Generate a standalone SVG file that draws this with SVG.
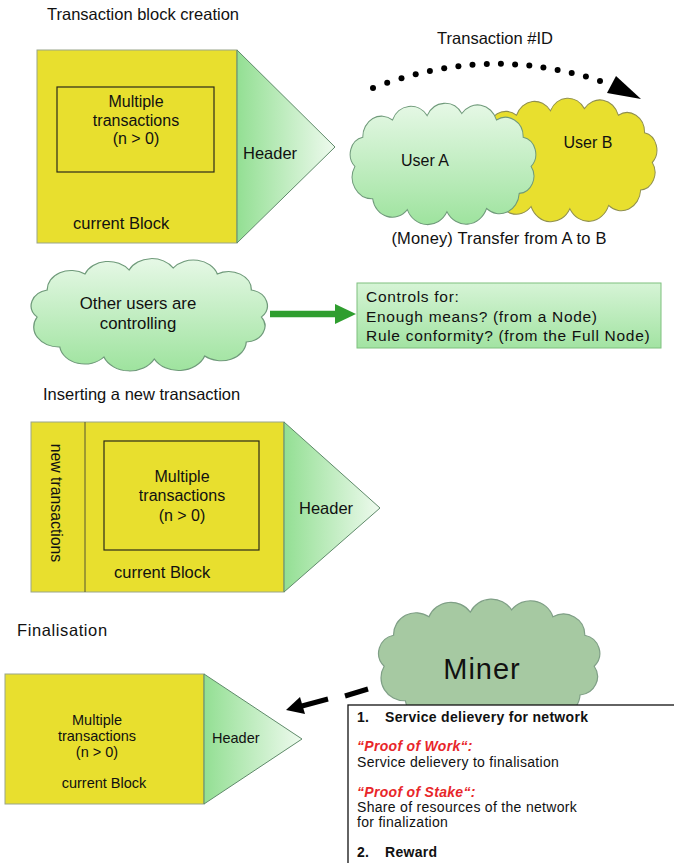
<svg xmlns="http://www.w3.org/2000/svg" width="674" height="863" viewBox="0 0 674 863">
<style>
text{font-family:"Liberation Sans",Arial,sans-serif;fill:#111}
.t{font-size:16.5px}
.m{font-size:16px;text-anchor:middle}
.s{font-size:14.5px}
.c{font-size:15.5px;letter-spacing:0.7px}
.blk{fill:#e8df2e;stroke:#9aa58a;stroke-width:1}
.inner{fill:none;stroke:#2a2a1a;stroke-width:1.2}
.hdr{fill:url(#hg);stroke:#5f8a6a;stroke-width:1}
.cl{vector-effect:non-scaling-stroke;stroke-width:1}
.bx{font-size:14px;letter-spacing:0.3px}
.b{font-weight:bold}
.r{fill:#e8262a;font-weight:bold;font-style:italic}
.dot{fill:#000}
</style>
<defs>
<linearGradient id="hg" x1="0" y1="0" x2="1" y2="0">
<stop offset="0" stop-color="#93df93"/><stop offset="1" stop-color="#eefaee"/>
</linearGradient>
<linearGradient id="cg" x1="0" y1="0" x2="0" y2="1">
<stop offset="0" stop-color="#e6f8e6"/><stop offset="1" stop-color="#9ee39e"/>
</linearGradient>
<linearGradient id="bg" x1="0" y1="0" x2="0" y2="1">
<stop offset="0" stop-color="#d6f4d6"/><stop offset="1" stop-color="#a2e3a2"/>
</linearGradient>
<path id="cloud" d="M12,55 A16,16 0 0 1 20,28 A19,19 0 0 1 50,12 A20,20 0 0 1 85,8 A20,20 0 0 1 120,6 A20,20 0 0 1 155,12 A18,18 0 0 1 182,28 A16,16 0 0 1 190,55 A16,16 0 0 1 178,80 A20,20 0 0 1 145,94 A22,22 0 0 1 105,97 A22,22 0 0 1 65,95 A20,20 0 0 1 30,85 A20,20 0 0 1 12,55 Z"/>
</defs>
<rect width="674" height="863" fill="#fff"/>

<text class="t" x="47" y="20">Transaction block creation</text>
<text class="t" x="495" y="44" text-anchor="middle">Transaction #ID</text>
<text class="t" x="499" y="244" text-anchor="middle" letter-spacing="0.15">(Money) Transfer from A to B</text>
<text class="t" x="43" y="400">Inserting  a new transaction</text>
<text class="t" x="17" y="636" letter-spacing="0.6">Finalisation</text>

<g id="block1">
<rect class="blk" x="37" y="50" width="200" height="193"/>
<rect class="inner" x="57" y="87" width="157" height="85"/>
<polygon class="hdr" points="237,50 335,147 237,243"/>
<text class="m" x="136" y="107">Multiple</text>
<text class="m" x="136" y="126">transactions</text>
<text class="m" x="136" y="144">(n &gt; 0)</text>
<text class="t" x="73" y="229">current Block</text>
<text class="t" x="243" y="159">Header</text>
</g>

<g id="userB">
<use href="#cloud" class="cl" fill="#e8df2e" stroke="#8f8f50" transform="translate(468,102) scale(0.97,1.1)"/>
<text x="588" y="148" text-anchor="middle" style="font-size:16px">User B</text>
</g>
<g id="userA">
<use href="#cloud" class="cl" fill="url(#cg)" stroke="#6f9a7a" transform="translate(343,107) scale(0.99,1.08)"/>
<text x="425" y="166" text-anchor="middle" style="font-size:16px">User A</text>
</g>

<g id="others">
<use href="#cloud" class="cl" fill="url(#cg)" stroke="#6f9a7a" transform="translate(22,262) scale(1.26,1.0)"/>
<text x="138" y="309" text-anchor="middle" style="font-size:16.8px">Other users are</text>
<text x="138" y="329" text-anchor="middle" style="font-size:16.8px">controlling</text>
</g>

<g id="controls">
<rect x="357" y="283" width="304" height="65" fill="url(#bg)" stroke="#7fc07f" stroke-width="1"/>
<text class="c" x="366" y="302">Controls for:</text>
<text class="c" x="366" y="322">Enough  means? (from a Node)</text>
<text class="c" x="366" y="341">Rule conformity? (from the Full Node)</text>
</g>

<g id="block2">
<rect class="blk" x="31" y="422" width="253" height="170"/>
<line x1="85" y1="422" x2="85" y2="592" stroke="#555530" stroke-width="1"/>
<rect class="inner" x="104" y="441" width="155" height="109"/>
<polygon class="hdr" points="284,422 380,508 284,592"/>
<text transform="translate(51,503) rotate(90)" text-anchor="middle" style="font-size:15.8px">new transactions</text>
<text class="m" x="182" y="482">Multiple</text>
<text class="m" x="182" y="501">transactions</text>
<text class="m" x="182" y="521">(n &gt; 0)</text>
<text class="t" x="114" y="578">current Block</text>
<text class="t" x="299" y="514">Header</text>
</g>

<g id="block3">
<rect class="blk" x="5" y="674" width="199" height="130"/>
<polygon class="hdr" points="204,674 302,739 204,804"/>
<text class="s" x="97" y="725" text-anchor="middle">Multiple</text>
<text class="s" x="97" y="741" text-anchor="middle">transactions</text>
<text class="s" x="97" y="757" text-anchor="middle">(n &gt; 0)</text>
<text class="s" x="104" y="788" text-anchor="middle">current Block</text>
<text class="s" x="212" y="743">Header</text>
</g>

<g id="miner">
<use href="#cloud" class="cl" fill="#a6c9a2" stroke="#7f9f86" transform="translate(370,603) scale(1.18,1.15)"/>
<text x="482" y="679" text-anchor="middle" style="font-size:29px" letter-spacing="1">Miner</text>
</g>

<g id="infobox">
<rect x="348" y="705" width="340" height="170" fill="#fff" stroke="#111" stroke-width="1.3"/>
<text class="bx b" x="357" y="722">1.</text>
<text class="bx b" x="385" y="722">Service delievery for network</text>
<text class="bx r" x="357" y="751">“Proof of Work“:</text>
<text class="bx" x="357" y="767">Service delievery  to finalisation</text>
<text class="bx r" x="357" y="797">“Proof of Stake“:</text>
<text class="bx" x="357" y="812">Share of resources of the network</text>
<text class="bx" x="357" y="827">for finalization</text>
<text class="bx b" x="357" y="857">2.</text>
<text class="bx b" x="385" y="857">Reward</text>
</g>

<g id="connectors">
<g class="dot">
<circle cx="373" cy="88" r="3"/><circle cx="387.2" cy="82.7" r="3"/><circle cx="401.5" cy="78.2" r="3"/><circle cx="415.7" cy="74.2" r="3"/><circle cx="429.9" cy="70.9" r="3"/><circle cx="444.2" cy="68.2" r="3"/><circle cx="458.4" cy="66.2" r="3"/><circle cx="472.5" cy="64.7" r="3"/><circle cx="486.8" cy="64" r="3"/><circle cx="500.9" cy="63.8" r="3"/><circle cx="515.1" cy="64.4" r="3"/><circle cx="529.3" cy="65.6" r="3"/><circle cx="543.4" cy="67.4" r="3"/><circle cx="557.6" cy="69.9" r="3"/><circle cx="571.7" cy="72.9" r="3"/><circle cx="585.9" cy="76.6" r="3"/><circle cx="600" cy="81" r="3"/>
</g>
<polygon points="616,76 607,93 641,99" fill="#000"/>
<line x1="270" y1="314" x2="337" y2="314" stroke="#2f9e2f" stroke-width="6.5"/>
<polygon points="335,304 356,314 335,324" fill="#2f9e2f"/>
<line x1="302" y1="706" x2="328" y2="699" stroke="#000" stroke-width="5"/>
<polygon points="286,710 300,697 305,714" fill="#000"/>
<line x1="345" y1="696" x2="368" y2="689" stroke="#000" stroke-width="5"/>
</g>
</svg>
